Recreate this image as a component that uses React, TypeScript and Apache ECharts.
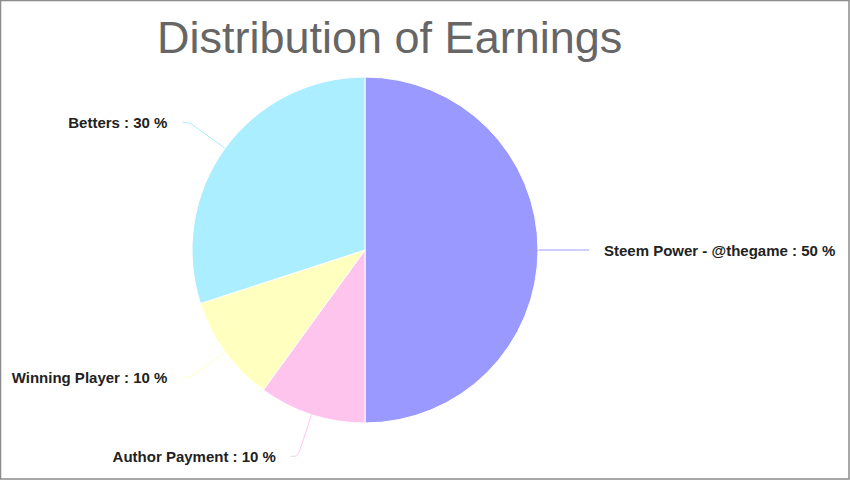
import React, { useEffect, useRef } from "react";
import * as echarts from "echarts";

const categories = ["Steem Power - @thegame", "Author Payment", "Winning Player", "Betters"];
const values = [50, 10, 10, 30];
const colors = ["#9999ff", "#ffc4ee", "#ffffc0", "#aaeeff"];
const titleText = "Distribution of Earnings";

export default function App() {
  const ref = useRef<HTMLDivElement>(null);
  useEffect(() => {
    if (!ref.current) return;
    const chart = echarts.init(ref.current, null, { renderer: "svg" });
    chart.setOption({
      animation: false,
      backgroundColor: "#ffffff",
      title: {
        text: titleText,
        left: 157,
        top: 15,
        padding: 0,
        textStyle: {
          fontFamily: "Liberation Sans, Arial, sans-serif",
          fontSize: 45,
          fontWeight: "normal",
          color: "#666666",
        },
      },
      graphic: [
        {
          type: "rect",
          shape: { x: 0.5, y: 0.5, width: 848.5, height: 478.5 },
          style: { fill: "none", stroke: "#8c8c8c", lineWidth: 1.5 },
          z: 100,
        },
      ],
      series: [
        {
          type: "pie",
          center: [365, 250],
          radius: 173,
          startAngle: 90,
          clockwise: true,
          data: categories.map((c, i) => ({
            name: c,
            value: values[i],
            itemStyle: { color: colors[i] },
          })),
          itemStyle: { borderColor: "#ffffff", borderWidth: 1 },
          label: {
            show: true,
            position: "outside",
            formatter: (p: any) => `${p.name} : ${p.value} %`,
            fontFamily: "Liberation Sans, Arial, sans-serif",
            fontSize: 15,
            fontWeight: "bold",
            color: "#222222",
            distanceToLabelLine: 15,
          },
          labelLine: {
            show: true,
            length: 44,
            length2: 7,
            smooth: 0.4,
            lineStyle: { width: 1 },
          },
          emphasis: { disabled: true },
        },
      ],
    });
    return () => chart.dispose();
  }, []);
  return (
    <div
      ref={ref}
      style={{ position: "absolute", left: 0, top: 0, width: 850, height: 480 }}
    />
  );
}
